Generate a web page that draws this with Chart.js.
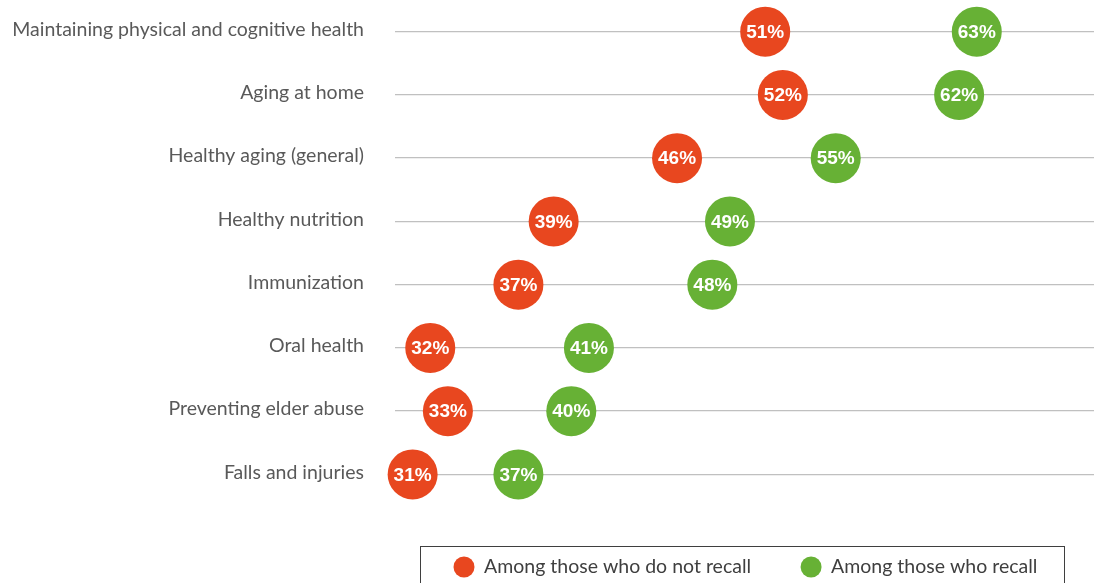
<!DOCTYPE html>
<html>
<head>
<meta charset="utf-8">
<script src="https://cdn.jsdelivr.net/npm/chart.js@4"></script>
<style>
  html, body { margin: 0; padding: 0; background: #ffffff; overflow: hidden; }
  #wrap { width: 1094px; height: 583px; }
</style>
</head>
<body>
<div id="wrap"><canvas id="c" width="1094" height="583"></canvas></div>
<script>
// Topics, top to bottom
const topics = [
  'Maintaining physical and cognitive health',
  'Aging at home',
  'Healthy aging (general)',
  'Healthy nutrition',
  'Immunization',
  'Oral health',
  'Preventing elder abuse',
  'Falls and injuries'
];
// Share of respondents (%) per topic
const notRecall = [51, 52, 46, 39, 37, 32, 33, 31];
const recall = [63, 62, 55, 49, 48, 41, 40, 37];
const seriesNames = ['Among those who do not recall', 'Among those who recall'];
const seriesColors = ['#E8471F', '#67B135'];

// White percentage text centred on each dot
const valueLabels = {
  id: 'valueLabels',
  afterDatasetsDraw(chart) {
    const ctx = chart.ctx;
    ctx.save();
    ctx.font = 'bold 19px "Liberation Sans", Arial, sans-serif';
    ctx.fillStyle = '#ffffff';
    ctx.textAlign = 'center';
    ctx.textBaseline = 'middle';
    chart.data.datasets.forEach((ds, i) => {
      chart.getDatasetMeta(i).data.forEach((pt, j) => {
        ctx.fillText(ds.data[j] + '%', pt.x, pt.y + 1);
      });
    });
    ctx.restore();
  }
};

// Boxed legend under the plot
const boxedLegend = {
  id: 'boxedLegend',
  afterDraw(chart) {
    const ctx = chart.ctx;
    const top = 546.5, left = 420.5, w = 644, h = 45;
    const cy = 567;
    ctx.save();
    ctx.strokeStyle = '#3F3F3F';
    ctx.lineWidth = 1;
    ctx.strokeRect(left, top, w, h);
    ctx.font = '19.5px Lato, "Open Sans", sans-serif';
    ctx.textBaseline = 'middle';
    ctx.textAlign = 'left';
    let x = 454;
    chart.data.datasets.forEach((ds) => {
      ctx.fillStyle = ds.backgroundColor;
      ctx.beginPath();
      ctx.arc(x + 10, cy, 10.5, 0, Math.PI * 2);
      ctx.fill();
      ctx.fillStyle = '#3F3F3F';
      ctx.fillText(ds.label, x + 30, cy);
      x += 30 + ctx.measureText(ds.label).width + 50;
    });
    ctx.restore();
  }
};

const datasets = [notRecall, recall].map((vals, i) => ({
  label: seriesNames[i],
  data: vals,
  backgroundColor: seriesColors[i],
  borderColor: seriesColors[i],
  showLine: false,
  pointRadius: 25,
  pointHoverRadius: 25,
  pointBorderWidth: 0,
  clip: false
}));

new Chart(document.getElementById('c'), {
  type: 'line',
  data: { labels: topics, datasets },
  plugins: [valueLabels, boxedLegend],
  options: {
    responsive: false,
    animation: false,
    indexAxis: 'y',
    layout: { autoPadding: false, padding: { left: 0, right: 0, top: 0, bottom: 77 } },
    plugins: {
      legend: { display: false },
      tooltip: { enabled: false }
    },
    scales: {
      x: { type: 'linear', min: 30, max: 69.65, display: false },
      y: {
        type: 'category',
        offset: true,
        grid: { offset: false, color: '#C0C0C0', lineWidth: 1.3, drawTicks: false },
        border: { display: false },
        ticks: {
          padding: 31,
          labelOffset: -2,
          color: '#595959',
          font: { family: 'Lato, "Open Sans", sans-serif', size: 19.5 }
        },
        afterFit(scale) {
          scale.width = 395;
          scale.paddingTop = 0;
          scale.paddingBottom = 0;
        }
      }
    }
  }
});
</script>
</body>
</html>
